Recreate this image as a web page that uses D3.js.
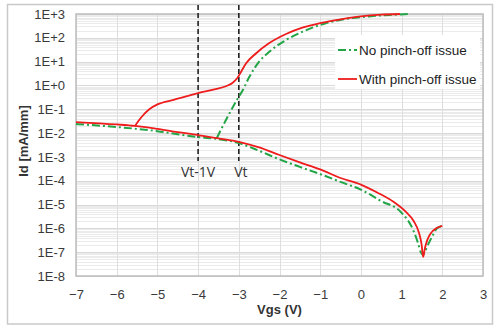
<!DOCTYPE html>
<html>
<head>
<meta charset="utf-8">
<script src="https://cdn.jsdelivr.net/npm/d3@7"></script>
<style>
  html, body { margin: 0; padding: 0; background: #fff; }
  svg { display: block; }
</style>
</head>
<body>
<div id="chart"></div>
<script>
// Gate voltage ticks and Id decades
const xTicks = [-7, -6, -5, -4, -3, -2, -1, 0, 1, 2, 3];
const yTicks = [1e-8, 1e-7, 1e-6, 1e-5, 1e-4, 1e-3, 1e-2, 1e-1, 1e0, 1e1, 1e2, 1e3];

// "No pinch-off issue" (green) - off-state branch
const noPinchOffVgs = [-7, -6, -5.5, -5, -4.5, -4, -3.5, -3, -2.5, -2, -1.5, -1, -0.5, 0, 0.5, 1.0, 1.28, 1.4, 1.47, 1.52, 1.57, 1.62, 1.75, 1.87, 2.0];
const noPinchOffId = [0.024, 0.018, 0.015, 0.012, 0.0089, 0.0068, 0.0056, 0.0038, 0.0018, 7.9e-4, 3.8e-4, 1.9e-4, 8.9e-5, 4.2e-5, 1.4e-5, 4.5e-6, 8.9e-7, 2.5e-7, 1.0e-7, 7.9e-8, 1.0e-7, 1.6e-7, 4.5e-7, 1.0e-6, 1.26e-6];
// "No pinch-off issue" (green) - on-state branch
const noPinchOnVgs = [-3.54, -3.3, -3.07, -2.9, -2.74, -2.5, -2.25, -1.84, -1.43, -0.86, -0.4, 0.2, 0.7, 1.2];
const noPinchOnId = [0.0062, 0.040, 0.21, 0.65, 2.3, 10, 26, 81, 182, 407, 603, 794, 912, 1000];

// "With pinch-off issue" (red) - off-state branch
const pinchOffVgs = [-7, -6, -5.55, -5, -4.5, -4, -3.5, -3, -2.5, -2, -1.5, -1, -0.5, 0, 0.4, 0.8, 1.1, 1.3, 1.42, 1.49, 1.53, 1.57, 1.63, 1.72, 1.85, 2.0];
const pinchOffId = [0.029, 0.023, 0.020, 0.015, 0.011, 0.0083, 0.006, 0.0043, 0.0025, 0.0012, 5.9e-4, 3.0e-4, 1.3e-4, 6.9e-5, 3.2e-5, 1.3e-5, 5.0e-6, 2.0e-6, 7.1e-7, 2.2e-7, 6.3e-8, 1.4e-7, 3.2e-7, 6.3e-7, 1.0e-6, 1.26e-6];
// "With pinch-off issue" (red) - on-state branch
const pinchOnVgs = [-5.55, -5.4, -5.2, -5.0, -4.6, -4.2, -4.0, -3.6, -3.3, -3.15, -3.05, -2.95, -2.82, -2.58, -2.26, -1.84, -1.42, -1.0, -0.5, 0, 0.5, 0.96];
const pinchOnId = [0.020, 0.045, 0.10, 0.16, 0.25, 0.38, 0.48, 0.68, 0.95, 1.3, 1.9, 3.6, 8.5, 22, 59, 145, 275, 417, 600, 794, 933, 1000];

// Threshold markers
const markerVgs = [-4, -3];
const markerLabels = ['Vt-1V', 'Vt'];

const legendLabels = ['No pinch-off issue', 'With pinch-off issue'];

const width = 495;
const height = 326;
const margin = { top: 14, right: 12, bottom: 50, left: 76 };

const svg = d3.select('#chart')
  .append('svg')
  .attr('width', width)
  .attr('height', height)
  .style('font-family', '"Liberation Sans", Arial, sans-serif');

// Outer frame
svg.append('rect')
  .attr('x', 7.5).attr('y', 4.5)
  .attr('width', 485).attr('height', 319.5)
  .attr('fill', '#fff')
  .attr('stroke', '#c9c9c9')
  .attr('stroke-width', 1.5);

const x = d3.scaleLinear().domain([-7, 3]).range([margin.left, width - margin.right]);
const y = d3.scaleLog().domain([1e-8, 1e3]).range([height - margin.bottom, margin.top]);

const g = svg.append('g');

// Minor horizontal gridlines
const minor = [];
yTicks.slice(0, -1).forEach(d => {
  for (let k = 2; k <= 9; k++) minor.push(d * k);
});
g.selectAll('.minor')
  .data(minor)
  .join('line')
  .attr('x1', x(-7)).attr('x2', x(3))
  .attr('y1', d => Math.round(y(d)) + 0.5)
  .attr('y2', d => Math.round(y(d)) + 0.5)
  .attr('stroke', '#ebebeb')
  .attr('stroke-width', 1);

// Major gridlines
g.selectAll('.hmajor')
  .data(yTicks)
  .join('line')
  .attr('x1', x(-7)).attr('x2', x(3))
  .attr('y1', d => Math.round(y(d)) + 0.5)
  .attr('y2', d => Math.round(y(d)) + 0.5)
  .attr('stroke', '#d9d9d9');

g.selectAll('.vmajor')
  .data(xTicks)
  .join('line')
  .attr('x1', d => Math.round(x(d)) + 0.5)
  .attr('x2', d => Math.round(x(d)) + 0.5)
  .attr('y1', y(1e3)).attr('y2', y(1e-8))
  .attr('stroke', '#dedede');

// Plot border
g.append('rect')
  .attr('x', x(-7)).attr('y', y(1e3))
  .attr('width', x(3) - x(-7))
  .attr('height', y(1e-8) - y(1e3))
  .attr('fill', 'none')
  .attr('stroke', '#bdbdbd')
  .attr('stroke-width', 1.5);

// Axes
const xAxis = svg.append('g')
  .attr('transform', `translate(0,${y(1e-8)})`)
  .call(d3.axisBottom(x).tickValues(xTicks).tickSize(0).tickPadding(14).tickFormat(d3.format('d')));
xAxis.select('.domain').remove();
xAxis.selectAll('text')
  .attr('fill', '#3a3a3a')
  .style('font-size', '13px')
  .style('font-family', '"Liberation Sans", Arial, sans-serif');

const yFormat = d => {
  const e = Math.round(Math.log10(d));
  return '1E' + (e >= 0 ? '+' : '-') + Math.abs(e);
};
const yAxis = svg.append('g')
  .attr('transform', `translate(${x(-7)},0)`)
  .call(d3.axisLeft(y).tickValues(yTicks).tickSize(0).tickPadding(11).tickFormat(yFormat));
yAxis.select('.domain').remove();
yAxis.selectAll('text')
  .attr('fill', '#3a3a3a')
  .style('font-size', '13px')
  .style('font-family', '"Liberation Sans", Arial, sans-serif');

// Axis titles
svg.append('text')
  .attr('x', (x(-7) + x(3)) / 2)
  .attr('y', 314)
  .attr('text-anchor', 'middle')
  .attr('font-weight', 'bold')
  .attr('font-size', 13)
  .attr('fill', '#333')
  .text('Vgs (V)');

svg.append('text')
  .attr('transform', 'translate(28,141) rotate(-90)')
  .attr('text-anchor', 'middle')
  .attr('font-weight', 'bold')
  .attr('font-size', 13)
  .attr('fill', '#333')
  .text('Id [mA/mm]');

// Threshold dashed markers
g.selectAll('.marker')
  .data(markerVgs)
  .join('line')
  .attr('x1', d => x(d)).attr('x2', d => x(d))
  .attr('y1', 5).attr('y2', 161)
  .attr('stroke', '#222')
  .attr('stroke-width', 1.6)
  .attr('stroke-dasharray', '5,3');

g.selectAll('.marker-label')
  .data(markerVgs)
  .join('text')
  .attr('x', (d, i) => x(d) + (i === 1 ? 2 : 0))
  .attr('y', 177)
  .attr('text-anchor', 'middle')
  .attr('font-family', '"Open Sans", sans-serif')
  .attr('font-size', 14)
  .attr('fill', '#333')
  .text((d, i) => markerLabels[i]);

// Curves
const line = d3.line()
  .x(d => x(d[0]))
  .y(d => y(d[1]))
  .curve(d3.curveMonotoneX);

const zip = (a, b) => a.map((v, i) => [v, b[i]]);

const green = { stroke: '#22a546', width: 2, dash: '8,3,2,3' };
const red = { stroke: '#ee1c1c', width: 1.8, dash: null };

[
  [zip(noPinchOffVgs, noPinchOffId), green],
  [zip(noPinchOnVgs, noPinchOnId), green],
  [zip(pinchOffVgs, pinchOffId), red],
  [zip(pinchOnVgs, pinchOnId), red]
].forEach(([pts, s]) => {
  g.append('path')
    .datum(pts)
    .attr('d', line)
    .attr('fill', 'none')
    .attr('stroke', s.stroke)
    .attr('stroke-width', s.width)
    .attr('stroke-dasharray', s.dash);
});

// Legend
const legend = svg.append('g');
legend.append('rect')
  .attr('x', 335).attr('y', 35)
  .attr('width', 145).attr('height', 54)
  .attr('fill', '#fff');

[green, red].forEach((s, i) => {
  const ly = 50 + i * 29;
  legend.append('line')
    .attr('x1', 338).attr('x2', 357)
    .attr('y1', ly).attr('y2', ly)
    .attr('stroke', s.stroke)
    .attr('stroke-width', s.width)
    .attr('stroke-dasharray', s.dash);
  legend.append('text')
    .attr('x', 359)
    .attr('y', ly + 5)
    .attr('font-size', 13.5)
    .attr('fill', '#222')
    .text(legendLabels[i]);
});
</script>
</body>
</html>
